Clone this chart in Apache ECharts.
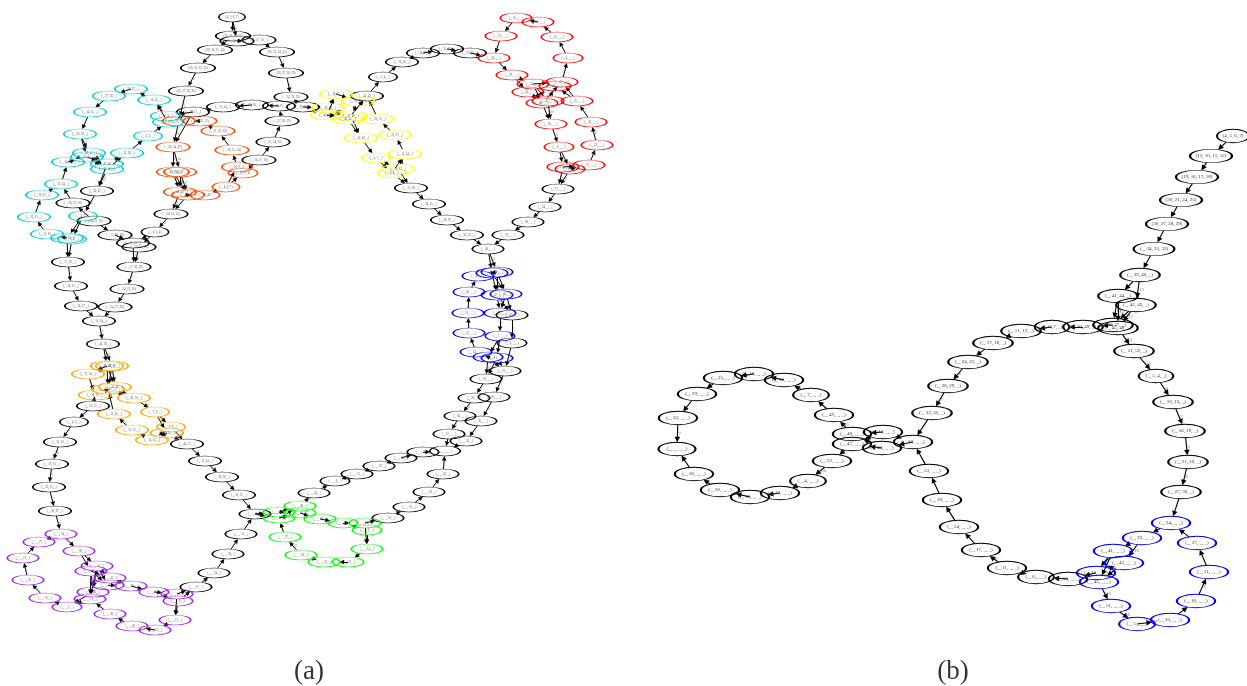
<!DOCTYPE html>
<html><head><meta charset="utf-8">
<script src="https://cdn.jsdelivr.net/npm/echarts@6/dist/echarts.min.js"></script>
<style>html,body{margin:0;padding:0;background:#fff}#c{width:1247px;height:686px}</style>
</head><body><div id="c"></div>
<script>
// Node rows: [id, label, x, y] (x, y, in axis units)
const aBlack = [
['t1','(4, 5, 6, 7)',232,17],['t2','(13, 10, 11, 12)',233,36],['t3','(_, 10, 11, 12)',237,41],['t4','(18, 17, 16, _)',259,40],
['t5','(19, 16, 15, 14)',215,50],['t6','(20, 21, 22, 23)',198,68],['t7','(30, 27, 26, 31)',186,91],['t8','(_, 16, 17, _)',193,112],
['t9','(_, 21, 24, _)',223,107],['t10','(_, 27, 28, _)',252,105],['t11','(_, 34, 35, _)',279,106],['t12','(_, 39, 40, _)',303,107],
['r1','(20, 21, 24, 25)',277,52],['r2','(30, 27, 28, 29)',286,73],['r3','(_, 34, 33, 32)',291,97],['r4','(_, 27, 28, 29)',282,121],
['r5','(_, 21, 24, 25)',273,142],['r6','(_, 16, 17, 18)',259,160],
['b1','(_, 36, 61, 52)',171,214],['b2','(_, 6, 5, 4)',155,232],['b3','(_, 10, 13, _)',133,243],['b4','(_, 10, 13, 12)',139,247],
['b5','(_, 17, 16, 19)',134,267],['b6','(_, 24, 21, 20)',127,289],['b7','(_, 24, 27, 30)',115,307],['b8','(_, 35, 34, _)',99,321],
['b9','(_, 46, 39, _)',103,344],['m1','(_, 36, 61, _)',97,191],['m2','(_, 26, 27, 30)',73,203],['m3','(_, 24, 21, 20)',94,221],
['m4','(_, 13, 16, 19)',115,235],['m5','(_, 17, 16, _)',68,262],['m6','(_, 24, 21, _)',71,286],['m7','(_, 26, 27, _)',81,306],
['d1','(_, 52, 51, _)',93,406],['d2','(_, 4, 5, _)',74,422],['d3','(_, 13, 10, _)',60,442],['d4','(_, 19, 16, _)',52,464],
['d5','(_, 20, 21, _)',49,487],['d6','(_, 30, 27, _)',55,511],
['e1','(_, 46, 37, _)',187,444],['e2','(_, 23, 24, _)',205,461],['e3','(_, 28, 26, _)',222,477],['e4','(_, 33, 31, _)',239,495],
['e5','(_, _, 40, _)',255,514],['e6','(_, _, 33, _)',241,534],['e7','(_, _, 28, _)',228,554],['e8','(_, _, 24, _)',214,573],['e9','(_, _, 17, _)',196,587],
['l1','(_, _, 43, _)',314,493],['l2','(_, _, 6, _)',335,481],['l3','(_, _, 13, _)',357,474],['l4','(_, _, 19, _)',379,466],
['l5','(_, _, 20, _)',401,458],['l6','(_, _, 30, _)',423,452],['l7','(_, _, _, _)',445,451],['l8','(_, _, 36, _)',466,441],
['l9','(_, 12, _, _)',449,434],['l10','(_, 26, _, _)',481,421],['l11','(_, 26, _, _)',460,416],['l12','(_, 20, _, _)',494,397],
['l13','(_, 20, _, _)',474,398],['l14','(_, 13, _, _)',505,371],['l15','(_, 18, _, _)',486,379],['l16','(_, 6, _, _)',512,343],
['k1','(_, _, 32, _)',443,474],['k2','(_, _, 26, _)',429,492],['k3','(_, _, 25, _)',409,507],['k4','(_, _, 18, _)',388,518],
['h1','(_, 17, _, _)',558,189],['h2','(_, 24, _, _)',545,207],['h3','(_, 28, _, _)',528,222],['h4','(_, 33, _, _)',508,235],
['h5','(_, 40, _, _)',488,249],['h6','(_, 33, 32, _)',467,235],['h7','(_, 28, 29, _)',447,220],['h8','(_, 24, 25, _)',429,204],
['h9','(_, 17, 18, _)',411,188],['u1','(_, 24, 19, _)',423,53],['u2','(_, 31, 26, _)',447,49],['u3','(_, 27, 30, _)',470,53],
['u4','(_, 16, 13, _)',402,62],['u5','(_, 5, 4, _)',383,77],['u6','(_, 41, 42, _)',367,96]];
const aCyan = [
['c1','(_, 21, 22, _)',131,89],['c2','(_, 27, 26, _)',109,96],['c3','(_, 34, 35, _)',90,112],['c4','(_, 39, 38, _)',80,134],
['c5','(_, 41, 42, _)',89,153],['c6','(_, 42, 41, _)',87,157],['c7','(_, 34, 39, _)',68,162],['c8','(_, 35, 34, _)',61,184],
['c9','(_, 26, 27, _)',42,195],['c10','(_, 22, 21, _)',34,217],['c11','(_, 15, 16, _)',47,234],['c12','(_, 10, 13, _)',67,238],
['c13','(_, 9, 6, _)',72,239],['c14','(_, 4, 5, _)',83,216],['c15','(_, 47, 48, _)',107,164],['c16','(_, 45, 46, _)',107,169],
['c17','(_, 33, 38, _)',127,153],['c18','(_, 5, 6, _)',148,136],['c19','(_, 9, 10, _)',168,122],['c20','(_, 10, 9, _)',166,116],['c21','(_, 16, 15, _)',154,100]];
const aOrangeRed = [
['o1','(_, 30, 31, _)',179,121],['o2','(_, 36, 26, 31)',200,121],['o3','(_, 21, 22, 23)',218,131],['o4','(_, 16, 15, 14)',232,150],
['o5','(_, 10, 9, _)',237,167],['o6','(_, 10, 9, 6)',243,173],['o7','(_, 4, 6, 7)',226,187],['o8','(_, 39, 40)',205,195],
['o9','(_, 42, 41, _)',188,195],['o10','(_, 41, 42, _)',180,192],['o11','(_, 40, 39, _)',173,172],['o12','(_, 48, 47, _)',180,172],['o13','(_, 36, 34, 37)',173,147]];
const aOrange = [
['y1','(_, 44, 43, _)',107,366],['y2','(_, 48, 47, _)',112,366],['y3','(_, 37, 34, _)',88,374],['y4','(_, 45, 46, _)',115,387],
['y5','(_, 42, 41, _)',108,389],['y6','(_, 36, 38, _)',95,395],['y7','(_, 49, 50, _)',134,398],['y8','(_, 7, 6, _)',155,412],
['y9','(_, 31, 26, _)',114,414],['y10','(_, 21, 22, _)',132,430],['y11','(_, 14, 15, _)',152,440],['y12','(_, 9, 8, _)',171,427],['y13','(_, 10, 11, _)',167,433]];
const aPurple = [
['p1','(_, _, 34, _)',61,534],['p2','(_, _, 27, _)',39,542],['p3','(_, _, 21, _)',23,558],['p4','(_, _, 16, _)',28,580],
['p5','(_, _, 10, _)',45,598],['p6','(_, _, 5, _)',67,607],['p7','(_, _, 39, _)',79,551],['p8','(_, _, 41, _)',97,566],
['p9','(_, _, 42, _)',91,571],['p10','(_, _, 43, _)',110,578],['p11','(_, _, 44, _)',108,585],['p12','(_, _, 50, _)',131,586],
['p13','(_, _, 6, _)',154,592],['p14','(_, _, 11, _)',177,594],['p15','(_, _, 9, _)',178,601],['p16','(_, _, 46, _)',93,592],
['p17','(_, _, 51, _)',90,599],['p18','(_, _, 36, _)',110,614],['p19','(_, _, 26, _)',132,626],['p20','(_, _, 22, _)',155,630],['p21','(_, _, 15, _)',175,620]];
const aGreen = [
['g1','(_, _, 47, _)',279,512],['g2','(_, _, 37, _)',279,518],['g3','(_, _, 48, _)',300,506],['g4','(_, _, 45, _)',300,513],
['g5','(_, _, 37, _)',285,537],['g6','(_, _, 36, _)',301,555],['g7','(_, _, 31, _)',324,562],['g8','(_, _, 21, _)',348,562],
['g9','(_, _, 14, _)',367,549],['g10','(_, _, 9, _)',367,530],['g11','(_, _, 11, _)',365,523],['g12','(_, _, 7, _)',343,523],['g13','(_, _, 49, _)',320,519]];
const aBlue = [
['n1','(_, 39, _, _)',478,276],['n2','(_, 41, _, _)',492,273],['n3','(_, 42, _, _)',497,272],['n4','(_, 36, _, _)',469,292],
['n5','(_, 43, _, _)',506,294],['n6','(_, 47, _, _)',497,295],['n7','(_, 31, _, _)',468,313],['n8','(_, 49, _, _)',500,313],
['n10','(_, 23, _, _)',469,333],['n11','(_, 7, _, _)',500,336],['n12','(_, 14, _, _)',476,352],['n13','(_, 9, _, _)',488,357],['n14','(_, 11, _, _)',497,358]];
const aBlueBlack = [['n9','(_, 47, _, _)',512,315]];
const aRed = [
['s1','(_, 35, _, _)',516,18],['s2','(_, 16, _, _)',538,22],['s3','(_, 21, _, _)',501,36],['s4','(_, 10, _, _)',557,37],
['s5','(_, 4, _, _)',568,58],['s6','(_, 34, _, _)',494,58],['s7','(_, 39, _, _)',512,75],['s8','(_, 47, _, _)',562,82],
['s9','(_, 44, _, _)',555,86],['s10','(_, 41, _, _)',533,84],['s11','(_, 42, _, _)',528,92],['s12','(_, 45, _, _)',548,101],
['s13','(_, 46, _, _)',542,103],['s14','(_, 35, _, _)',577,101],['s15','(_, 26, _, _)',591,122],['s16','(_, 50, _, _)',551,124],
['s17','(_, 6, _, _)',559,147],['s18','(_, 22, _, _)',597,145],['s19','(_, 15, _, _)',589,165],['s20','(_, 11, _, _)',563,167],['s21','(_, 9, _, _)',570,169]];
const aYellow = [
['v1','(_, 36, 37, _)',336,94],['v2','(_, 33, 38, _)',358,101],['v3','(_, 41, 44, _)',328,108],['v4','(_, 42, 43, _)',327,115],
['v5','(_, 47, 48, _)',351,116],['v6','(_, 46, 45, _)',348,119],['v7','(_, 26, 31, _)',378,119],['v8','(_, 50, 49, _)',361,138],
['v9','(_, 22, 23, _)',395,135],['v10','(_, 15, 14, _)',405,154],['v11','(_, 6, 7, _)',376,158],['v12','(_, 10, 12, _)',398,169],['v13','(_, 9, 8, _)',392,173]];

const bBlack = [
['B1','(4, 5, 6, 7)',1233,136],['B2','(13, 10, 11, 12)',1211,156],['B3','(19, 16, 17, 18)',1197,177],['B4','(20, 21, 24, 25)',1181,200],
['B5','(30, 27, 28, 29)',1167,224],['B6','(_, 34, 33, 32)',1154,249],['B7','(_, 39, 40, _)',1140,275],['B8','(_, 41, 44, _)',1118,296],
['B9','(_, 42, 43, _)',1136,305],['B10','(_, 46, 47, _)',1113,325],['B11','(_, 45, 48, _)',1118,328],['B12','(_, 50, 49, _)',1083,327],
['B13','(_, 6, 7, _)',1052,327],['B14','(_, 11, 12, _)',1021,331],['B15','(_, 17, 18, _)',993,343],['B16','(_, 24, 25, _)',968,362],
['B17','(_, 28, 29, _)',948,386],['B18','(_, 33, 32, _)',932,413],['B19','(_, 51, 52, _)',1134,351],['B20','(_, 5, 4, _)',1156,376],
['B21','(_, 10, 13, _)',1173,402],['B22','(_, 16, 19, _)',1185,431],['B23','(_, 21, 20, _)',1188,462],['B24','(_, 27, 30, _)',1181,492],
['C1','(_, 50, _, _)',1068,579],['C2','(_, 6, _, _)',1036,577],['C3','(_, 11, _, _)',1007,568],['C4','(_, 17, _, _)',981,550],
['C5','(_, 24, _, _)',959,527],['C6','(_, 28, _, _)',942,500],['C7','(_, 33, _, _)',929,471],['C8','(_, 40, _, _)',913,442],
['C9','(_, 44, _, _)',883,432],['C10','(_, 43, _, _)',882,448],['C11','(_, 48, _, _)',852,434],['C12','(_, 47, _, _)',852,444],
['C13','(_, 49, _, _)',834,415],['C14','(_, 52, _, _)',832,461],['C15','(_, 7, _, _)',811,395],['C16','(_, 12, _, _)',784,380],
['C17','(_, 18, _, _)',754,374],['C18','(_, 25, _, _)',723,378],['C19','(_, 29, _, _)',697,394],['C20','(_, 32, _, _)',678,418],
['C21','(_, _, _, _)',677,449],['C22','(_, 30, _, _)',694,474],['C23','(_, 20, _, _)',720,490],['C24','(_, 19, _, _)',750,497],
['C25','(_, 13, _, _)',780,493],['C26','(_, 4, _, _)',808,481]];
const bBlue = [
['D1','(_, 34, _, _)',1171,523],['D2','(_, 39, _, _)',1142,538],['D3','(_, 27, _, _)',1197,543],['D4','(_, 41, _, _)',1113,551],
['D5','(_, 42, _, _)',1124,563],['D6','(_, 21, _, _)',1209,572],['D7','(_, 46, _, _)',1096,573],['D8','(_, 45, _, _)',1099,582],
['D9','(_, 16, _, _)',1196,601],['D10','(_, 51, _, _)',1111,606],['D11','(_, 10, _, _)',1170,620],['D12','(_, 5, _, _)',1137,624]];

// Edge chains: node>node:weight>node ...; the weight labels the edge that enters the node.
const aEdges = [
't1>t3:8','t1>t2:8','t2>t5','t5>t6:7','t6>t7:6','t7>o1:5','t3>t4','t4>r1','r1>r2:7','r2>r3:6','r3>t12','r6>r5:7>r4:6>t11>t10>t9>t8','t8>o13','t8>c20','t8>c19',
'o1>o13:8','o13>o11:14','o13>o12:14','o11>o10:9','o12>o10:9','o11>o9:9','o12>o9:9','o9>o8','o8>o7','o7>o6','o7>o5','o5>o4','o4>o3','o3>o2','o2>o1','o6>r6','o10>b1:8','o9>b1:8',
'b1>b2:8>b3','b2>b4','b3>b5:5','b4>b5:5','b5>b6:7>b7:6>b8','m7>b8:5','m6>m7','m5>m6:7','b8>b9:7','m4>b3','m3>m4','m1>c14:6','c14>c12','c14>c13','c12>c11','c13>m5','c12>m5',
'c11>c10>c9>c8>c7','m2>c8','c7>c5','c7>c6','c4>c5:8','c4>c6:8','c3>c4','c2>c3','c1>c2','c21>c1','c20>c21','c19>c21','c18>c19','c17>c18:16','c15>c17','c16>c17','c5>c15','c5>c16','c6>c15','c6>c16','c16>m1:10','c15>m1:10','m3>m2',
'b9>y1:8','b9>y2:8','y1>y3','y2>y3','y3>y6','y1>y4','y1>y5','y2>y4','y2>y5','y4>y6','y5>y7','y4>y7','y6>d1','y7>y8:10','y8>y12','y8>y13','y12>y11','y13>y11','y11>y10','y10>y9','y9>y5','y13>e1','y12>e1',
'd1>d2:5>d3:7>d4:6>d5:5>d6:7>p1:4','e1>e2:7>e3:6>e4:5>e5:7','e9>e8:6>e7:5>e6:5>e5:7',
'p6>p5>p4>p3>p2>p1','p1>p7>p8','p7>p9','p8>p10','p8>p11','p8>p16','p8>p17','p9>p10','p9>p11','p9>p16','p9>p17','p10>p12:11>p13:6>p14','p13>p15','p11>p12','p14>e9','p15>e9','p14>p21','p15>p21','p21>p20>p19>p18>p17','p17>p6','p16>p6',
'e5>g1:10','e5>g2:10','g1>g3','g1>g4','g2>g3','g2>g4','g3>l1:10','g4>g13','g13>g12','g12>g11','g12>g10','g10>g9','g11>g9','g9>g8>g7>g6>g5:10>g2','g11>k4','k4>k3:5>k2:6>k1:7>l7',
'l1>l2:5>l3:6>l4>l5>l6>l7','l8>l7','l9>l7','l10>l8:5','l12>l10:6','l14>l12:7','l16>l14:8','l11>l9:5','l13>l11:6','l15>l13:7',
'n13>l15:8','n14>l15:8','n13>l14','n14>l14','h5>n2:8','h5>n3:8','n2>n1','n3>n1','n4>n1:6','n7>n4','n10>n7','n12>n10','n13>n12','n2>n5','n2>n6','n3>n5','n3>n6','n5>n8','n6>n8','n5>n9','n6>n9','n8>n11:7','n11>n13','n11>n14','n9>l16:7',
'h1>h2:5>h3:6>h4:7>h5','h9>h8:5>h7:6>h6:7>h5','v12>h9','v13>h9','s20>h1:8','s21>h1:8',
's17>s20','s17>s21','s20>s19','s21>s19','s19>s18:5>s15:6>s14:7>s8','s14>s9','s8>s5>s4>s2>s1>s3>s6>s7','s7>s10','s7>s11','s10>s12','s10>s13','s11>s12','s11>s13','s12>s16:10','s13>s16:10','s16>s17:8','s13>s8','s12>s9','s10>s8',
'u6>u5:8>u4:5>u1>u2>u3>s6','t12>v3:9','t12>v4:9','v3>v1','v4>v1','v1>v2','v2>v5','v3>v5','v3>v6','v4>v5','v4>v6','v6>u6','v5>u6','v7>u6','v9>v7','v10>v9','v12>v10','v13>v10','v11>v12','v11>v13','v8>v11','v5>v8','v6>v8'];
const bEdges = [
'B1>B2>B3>B4>B5>B6>B7','B7>B8','B7>B9:13','B8>B10:12','B8>B11:12','B9>B10:12','B9>B11:12','B10>B12:10','B11>B19:14','B12>B13:10>B14:6>B15:6>B16>B17:6>B18:7>C8','B19>B20:10>B21:8>B22:7>B23:5>B24:6>D1',
'D1>D2>D4','D2>D5:10','D4>D7','D4>D8','D5>D7:10','D5>D8','D7>C1:10','D8>D10:10','D10>D12:16>D11:9>D9:5>D6:6>D3>D1',
'C1>C2:8>C3:8>C4:6>C5>C6>C7>C8','C8>C9:9','C8>C10','C9>C11','C9>C12','C10>C11','C10>C12','C11>C13:16','C12>C14:8','C13>C15>C16:6>C17>C18>C19>C20>C21:7','C14>C26:36','C26>C25:6>C24>C23>C22>C21'];

const captions = [['(a)',309,672],['(b)',953,672]];
const palette = {black:'#000000',cyan:'#00d2d6',orangered:'#ff4500',orange:'#ffa500',purple:'#a020f0',green:'#00ff00',blue:'#0000ff',red:'#ff0000',yellow:'#ffff00'};

const ELLIPSE = 'path://M0,1 A1,1 0 1,1 2,1 A1,1 0 1,1 0,1 Z';
function units(label){
  const d=(label.match(/\d/g)||[]).length, u=(label.match(/_/g)||[]).length;
  return d+1.5*u;
}
const groupsA=[[aBlack,'black'],[aBlueBlack,'black'],[aCyan,'cyan'],[aOrangeRed,'orangered'],[aOrange,'orange'],[aPurple,'purple'],[aGreen,'green'],[aBlue,'blue'],[aRed,'red'],[aYellow,'yellow']];
const groupsB=[[bBlack,'black'],[bBlue,'blue']];
const index={};
function size(label,panel){
  const w=22+2.5*units(label);
  return panel==='a'?[w*0.82,10]:[w,13.5];
}
[[groupsA,'a'],[groupsB,'b']].forEach(([gs,p])=>gs.forEach(([rows])=>rows.forEach(r=>{
  const s=size(r[1],p); index[r[0]]={x:r[2],y:r[3],w:s[0],h:s[1]};
})));
function parse(chains){
  const out=[];
  chains.forEach(c=>{
    const toks=c.split('>').map(t=>t.split(':'));
    for(let i=1;i<toks.length;i++) out.push([toks[i-1][0],toks[i][0],toks[i][1]||'']);
  });
  return out;
}
function edgeCoords(e,arrow){
  const A=index[e[0]],B=index[e[1]];
  const dx=B.x-A.x,dy=B.y-A.y,len=Math.hypot(dx,dy)||1;
  const tA=1/Math.hypot(dx/(A.w/2),dy/(A.h/2)),tB=1/Math.hypot(dx/(B.w/2),dy/(B.h/2));
  const s=tA+tB<1?tA:0;
  const back=tB+arrow/2/len;
  return [[A.x+dx*s,A.y+dy*s],[B.x-dx*back,B.y-dy*back]];
}
function lineSeries(chains,arrow,width){
  return {type:'lines',coordinateSystem:'cartesian2d',silent:true,polyline:false,zlevel:0,z:2,
    symbol:['none','triangle'],symbolSize:[0,arrow],
    lineStyle:{color:'#000',width:width,opacity:1,curveness:0},
    data:parse(chains).map(e=>({coords:edgeCoords(e,arrow)}))};
}
function edgeLabelSeries(chains,font){
  const d=parse(chains).filter(e=>e[2]).map(e=>{
    const A=index[e[0]],B=index[e[1]];
    return {value:[(A.x+B.x)/2,(A.y+B.y)/2],name:e[2]};
  });
  return {type:'scatter',silent:true,symbolSize:0,data:d,z:5,
    label:{show:true,position:'right',distance:1,formatter:p=>p.name,fontFamily:'"Liberation Serif",serif',fontSize:font,color:'#555'}};
}
function nodeSeries(rows,color,panel){
  return {type:'scatter',silent:true,symbol:ELLIPSE,z:4,
    itemStyle:{color:'rgba(255,255,255,0)',borderColor:palette[color],borderWidth:panel==='a'?1:1.3,opacity:1},
    label:{show:true,position:'inside',formatter:p=>p.name,fontFamily:'"Liberation Serif",serif',fontSize:panel==='a'?3.1:5,color:panel==='a'?'#555':'#333'},
    data:rows.map(r=>({name:r[1],value:[r[2],r[3]],symbolSize:size(r[1],panel)}))};
}
const series=[lineSeries(aEdges,4.5,1),lineSeries(bEdges,5.5,1.1),edgeLabelSeries(aEdges,3.2),edgeLabelSeries(bEdges,5)];
groupsA.forEach(([r,c])=>series.push(nodeSeries(r,c,'a')));
groupsB.forEach(([r,c])=>series.push(nodeSeries(r,c,'b')));
series.push({type:'scatter',silent:true,symbolSize:0,z:6,data:captions.map(c=>({name:c[0],value:[c[1],c[2]]})),
  label:{show:true,position:'inside',formatter:p=>p.name,fontFamily:'"Liberation Serif",serif',fontSize:27,color:'#000'}});

const chart=echarts.init(document.getElementById('c'),null,{renderer:'canvas'});
chart.setOption({animation:false,backgroundColor:'#fff',
  grid:{left:0,right:0,top:0,bottom:0,containLabel:false},
  xAxis:{type:'value',min:0,max:1247,show:false},
  yAxis:{type:'value',min:0,max:686,inverse:true,show:false},
  series:series});
</script></body></html>
